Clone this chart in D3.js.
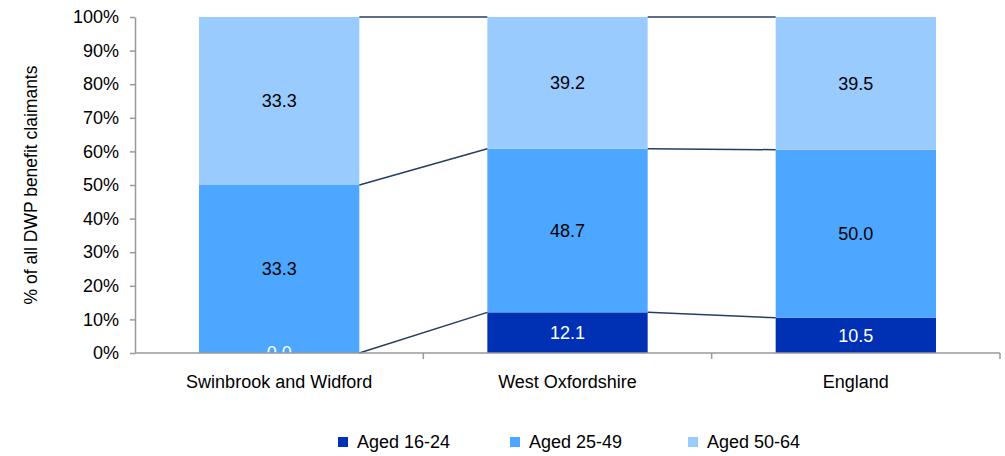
<!DOCTYPE html>
<html>
<head>
<meta charset="utf-8">
<script src="https://cdn.jsdelivr.net/npm/d3@7"></script>
<style>
  body { margin: 0; background: #fff; }
  text { font-family: "Liberation Sans", Arial, sans-serif; }
</style>
</head>
<body>
<svg width="1005" height="456"></svg>
<script>
const categories = ['Swinbrook and Widford', 'West Oxfordshire', 'England'];
const seriesNames = ['Aged 16-24', 'Aged 25-49', 'Aged 50-64'];
const aged16to24 = [0.0, 12.1, 10.5];
const aged25to49 = [33.3, 48.7, 50.0];
const aged50to64 = [33.3, 39.2, 39.5];
const yTicks = [0, 10, 20, 30, 40, 50, 60, 70, 80, 90, 100];

const colors = ['#0031b4', '#4da6ff', '#99cbff'];
const labelColors = ['#fff', '#000', '#000'];
const fs = 18;

const svg = d3.select('svg');
const margin = { left: 135, right: 5, top: 17, bottom: 103 };
const w = 1005, h = 456;

// percent-stacked table
const table = categories.map((c, i) => {
  const vals = [aged16to24[i], aged25to49[i], aged50to64[i]];
  const total = d3.sum(vals);
  const row = { cat: c };
  seriesNames.forEach((s, j) => { row[s] = vals[j] / total * 100; row[s + '_raw'] = vals[j]; });
  return row;
});

const stack = d3.stack().keys(seriesNames);
const layers = stack(table);

const x = d3.scaleBand().domain(categories).range([margin.left, w - margin.right]).paddingInner(0.444).paddingOuter(0.222);
const y = d3.scaleLinear().domain([0, 100]).range([h - margin.bottom, margin.top]);

svg.append('defs').append('clipPath').attr('id', 'plot')
  .append('rect')
  .attr('x', margin.left).attr('y', margin.top)
  .attr('width', w - margin.left - margin.right).attr('height', y(0) - margin.top);

const g = svg.append('g');

layers.forEach((layer, j) => {
  g.selectAll('.bar' + j)
    .data(layer)
    .enter().append('rect')
      .attr('x', d => x(d.data.cat))
      .attr('y', d => y(d[1]))
      .attr('width', x.bandwidth())
      .attr('height', d => y(d[0]) - y(d[1]))
      .attr('fill', colors[j]);
});

// series lines between bars
layers.forEach((layer, j) => {
  for (let i = 0; i < layer.length - 1; i++) {
    g.append('line')
      .attr('x1', x(categories[i]) + x.bandwidth())
      .attr('y1', y(layer[i][1]))
      .attr('x2', x(categories[i + 1]))
      .attr('y2', y(layer[i + 1][1]))
      .attr('stroke', '#243f60')
      .attr('stroke-width', 1.5);
  }
});

// value labels
const labels = svg.append('g').attr('clip-path', 'url(#plot)');
layers.forEach((layer, j) => {
  labels.selectAll('.lab' + j)
    .data(layer)
    .enter().append('text')
      .attr('x', d => x(d.data.cat) + x.bandwidth() / 2)
      .attr('y', d => (y(d[0]) + y(d[1])) / 2)
      .attr('dy', '0.35em')
      .attr('text-anchor', 'middle')
      .attr('font-size', fs)
      .attr('fill', labelColors[j])
      .text(d => d.data[seriesNames[j] + '_raw'].toFixed(1));
});

// y axis
const yAxis = svg.append('g')
  .attr('transform', `translate(${margin.left},0)`)
  .call(d3.axisLeft(y).tickValues(yTicks).tickFormat(d => d + '%').tickSize(5).tickSizeOuter(0));
yAxis.selectAll('text').attr('font-size', fs).attr('fill', '#000').attr('x', -16)
  .style('font-family', '"Liberation Sans", Arial, sans-serif');
yAxis.selectAll('line, path').attr('stroke', '#999').attr('stroke-width', 1.5);

// x axis
const xAxis = svg.append('g')
  .attr('transform', `translate(0,${y(0)})`);
xAxis.append('line')
  .attr('x1', margin.left).attr('x2', w - margin.right)
  .attr('stroke', '#999').attr('stroke-width', 1.5);
d3.range(1, categories.length + 1).forEach(k => {
  const tx = margin.left + k * (w - margin.left - margin.right) / categories.length;
  xAxis.append('line')
    .attr('x1', tx).attr('x2', tx)
    .attr('y1', 0).attr('y2', 6)
    .attr('stroke', '#999').attr('stroke-width', 1.5);
});
xAxis.selectAll('.cl')
  .data(categories)
  .enter().append('text')
    .attr('x', d => x(d) + x.bandwidth() / 2)
    .attr('y', 35)
    .attr('text-anchor', 'middle')
    .attr('font-size', fs)
    .text(d => d);

// y title
svg.append('text')
  .attr('transform', `translate(37,${(y(0) + y(100)) / 2}) rotate(-90)`)
  .attr('text-anchor', 'middle')
  .attr('font-size', 17.5)
  .text('% of all DWP benefit claimants');

// legend
const legendX = [338, 510, 688];
const legend = svg.append('g');
seriesNames.forEach((s, j) => {
  legend.append('rect')
    .attr('x', legendX[j]).attr('y', 437)
    .attr('width', 10).attr('height', 10)
    .attr('fill', colors[j]);
  legend.append('text')
    .attr('x', legendX[j] + 19).attr('y', 442)
    .attr('dy', '0.35em')
    .attr('font-size', fs)
    .text(s);
});
</script>
</body>
</html>
